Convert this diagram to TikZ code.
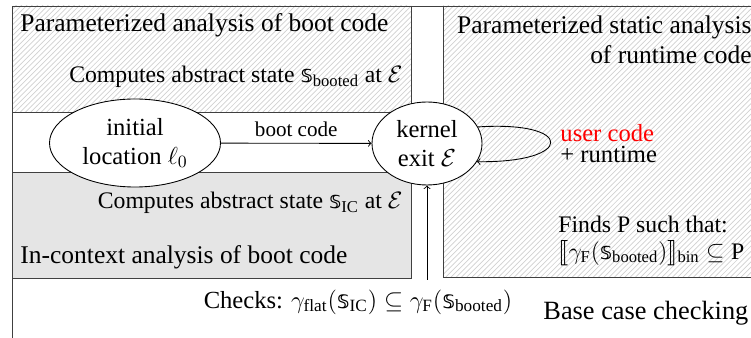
\RequirePackage{fix-cm}
\documentclass[tikz,border=0pt]{standalone}
\usepackage{amsmath}
\usepackage{amssymb}
\usepackage{stmaryrd}
\usepackage{fontspec}
\setmainfont{Liberation Serif}
\newfontfamily\dvsans{DejaVu Sans}
\usetikzlibrary{shapes,patterns,positioning,calc}
\newcommand{\dss}{\text{\dvsans 𝕤}}
\newcommand{\sboot}{\dss_{\mathrm{booted}}}
\newcommand{\sIC}{\dss_{\mathrm{IC}}}

\begin{document}
\begin{tikzpicture}
  [hatchB/.style={draw=black!75,pattern=north east lines,pattern color=black!18},
   grayB/.style={draw=black!75,fill=black!10},
   locN/.style={ellipse,draw,fill=white,align=center,inner sep=0pt,
                font=\fontsize{14}{16.5}\selectfont},
   bigT/.style={inner sep=0pt,font=\fontsize{14.5}{17}\selectfont},
   smallT/.style={inner sep=0pt,font=\fontsize{13.5}{13}\selectfont},
   line width=0.5pt]

  \useasboundingbox (0,0) rectangle (15.02,6.76);
  \clip (0,0) rectangle (15.02,6.76);

  \draw [black!75] (0.24,-1) rectangle (17,6.64);
  \draw [hatchB] (0.24,4.52) rectangle (8.22,6.64);
  \draw [grayB]  (0.24,1.20) rectangle (8.22,3.32);
  \draw [hatchB] (8.86,1.22) rectangle (17,6.64);

  \coordinate (chkTop) at (8.54,1.16);

  \node[locN,minimum width=3.42cm,minimum height=1.76cm] (init) at (2.70,3.90)
    {initial\\location $\ell_0$};
  \node[locN,minimum width=2.2cm,minimum height=1.66cm] (kexit) at (8.54,3.89)
    {kernel\\exit $\mathcal{E}$};

  \draw [->] (init) -- node[above,font=\fontsize{12}{14}\selectfont] (bootL) {boot code} (kexit);
  \draw [->] (kexit.18) .. controls (11.5,4.35) and (11.5,3.5) .. (kexit.-20);
  \draw [->] (chkTop) -- (kexit.south);

  \node[bigT,anchor=west] (paramT) at (0.40,6.26) {Parameterized analysis of boot code};
  \node[smallT,anchor=east] (compB) at (8.06,5.22)
    {Computes abstract state $\sboot$ at $\mathcal{E}$};
  \node[bigT,anchor=east,align=right] (staticT) at (15.04,5.96)
    {Parameterized static analysis\\of runtime code};

  \node[smallT,anchor=west,align=left,font=\fontsize{14}{12}\selectfont] (userT) at (11.2,3.88)
    {\textcolor{red}{user code}\\+ runtime};

  \node[smallT,anchor=east] (compIC) at (8.06,2.70)
    {Computes abstract state $\sIC$ at $\mathcal{E}$};
  \node[bigT,anchor=west] (inctxT) at (0.40,1.62) {In-context analysis of boot code};

  \node[smallT,anchor=west,align=left,font=\fontsize{13.5}{15}\selectfont] (findsT) at (11.16,1.94)
    {Finds P such that:\\$\llbracket\gamma_{\mathrm{F}}(\sboot)\rrbracket_{\mathrm{bin}} \subseteq \mathrm{P}$};

  \node[smallT,font=\fontsize{14}{14}\selectfont] (checksT) at (7.16,0.72)
    {Checks: $\gamma_{\mathrm{flat}}(\sIC) \subseteq \gamma_{\mathrm{F}}(\sboot)$};
  \node[bigT,anchor=west,font=\fontsize{15}{17}\selectfont] (baseT) at (10.86,0.50) {Base case checking};
\end{tikzpicture}
\end{document}
